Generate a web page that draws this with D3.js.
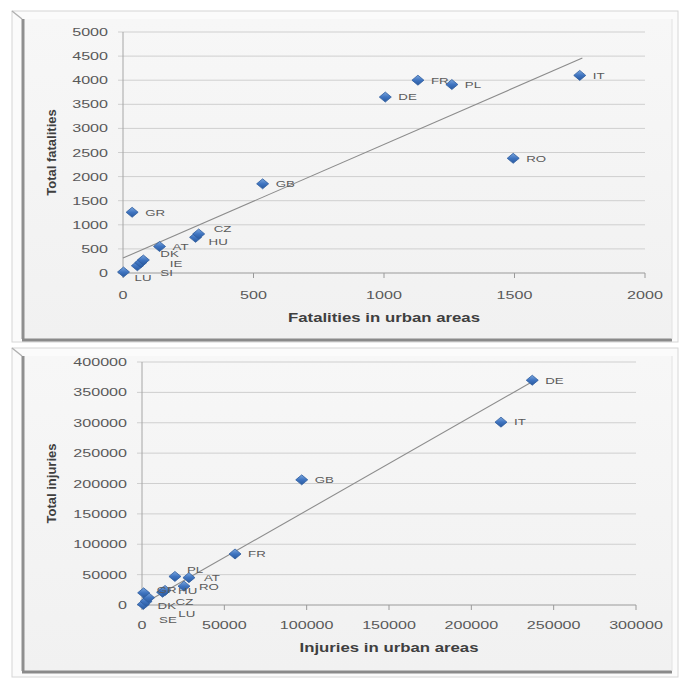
<!DOCTYPE html>
<html>
<head>
<meta charset="utf-8">
<script src="https://cdn.jsdelivr.net/npm/d3@7"></script>
<style>
  body { margin: 0; background: #ffffff; }
  svg { display: block; }
</style>
</head>
<body>
<div id="main"></div>
<script>
const ctx = {
    CHART_WIDTH: 684,
    CHART_HEIGHT: 679,
    FONT: "'Liberation Sans', Arial, sans-serif",
    SX: 1.4   // the picture is stretched sideways, so is the horizontal text
};

// fatalities chart
const fatalCountries = ["IT", "FR", "PL", "DE", "RO", "GB", "GR", "CZ", "HU", "AT", "DK", "IE", "SI", "LU"];
const fatalUrban = [1750, 1130, 1260, 1005, 1495, 535, 35, 290, 278, 140, 78, 68, 55, 2];
const fatalTotal = [4100, 4000, 3910, 3650, 2380, 1850, 1260, 810, 740, 550, 270, 215, 150, 20];
const fatalTrend = [[0, 310], [1760, 4460]];
const fatalXTicks = [0, 500, 1000, 1500, 2000];
const fatalYTicks = [0, 500, 1000, 1500, 2000, 2500, 3000, 3500, 4000, 4500, 5000];

// injuries chart
const injCountries = ["DE", "IT", "GB", "FR", "PL", "AT", "RO", "HU", "CZ", "GR", "DK", "SE", "LU"];
const injUrban = [237000, 218000, 97000, 56500, 20000, 28500, 25500, 14000, 12500, 1000, 4000, 2500, 800];
const injTotal = [370000, 301000, 206000, 84000, 47000, 45000, 31000, 24000, 21000, 20000, 12000, 6000, 1000];
const injTrend = [[0, 700], [238000, 369000]];
const injXTicks = [0, 50000, 100000, 150000, 200000, 250000, 300000];
const injYTicks = [0, 50000, 100000, 150000, 200000, 250000, 300000, 350000, 400000];

// small pixel nudges for labels in the crowded corner (dx, dy)
const fatalNudge = {CZ: [2, -5], HU: [0, 4], DK: [4, -6], IE: [16, 1], SI: [10, 7], LU: [-2, 6]};
const injNudge = {PL: [-1, -7], AT: [2, 0], RO: [2, 1], GR: [0, -3], CZ: [0, 9], DK: [-4, 8], SE: [0, 18], LU: [22, 9]};

const panels = [
    {
        id: "fatal", frame: {x0: 12, y0: 11, x1: 678, y1: 342, ix: 22, iy: 19, ib: 339},
        plot: {left: 123, right: 645, top: 32, bottom: 273},
        countries: fatalCountries, xs: fatalUrban, ys: fatalTotal, trend: fatalTrend, nudge: fatalNudge,
        xTicks: fatalXTicks, yTicks: fatalYTicks, xMax: 2000, yMax: 5000,
        xTitle: "Fatalities in urban areas", yTitle: "Total fatalities",
        xTitleY: 318, yTitleX: 51, tickLabelRight: 108, xTickY: 295
    },
    {
        id: "inj", frame: {x0: 12, y0: 348, x1: 678, y1: 677, ix: 22, iy: 356, ib: 671},
        plot: {left: 142, right: 636, top: 362, bottom: 605},
        countries: injCountries, xs: injUrban, ys: injTotal, trend: injTrend, nudge: injNudge,
        xTicks: injXTicks, yTicks: injYTicks, xMax: 300000, yMax: 400000,
        xTitle: "Injuries in urban areas", yTitle: "Total injuries",
        xTitleY: 648, yTitleX: 51, tickLabelRight: 127, xTickY: 625
    }
];

function hText(g, x, y, str, anchor, size, weight, color) {
    return g.append("text")
        .attr("transform", `translate(${x},${y}) scale(${ctx.SX},1)`)
        .attr("text-anchor", anchor)
        .attr("dy", "0.35em")
        .attr("font-family", ctx.FONT)
        .attr("font-size", size)
        .attr("font-weight", weight)
        .attr("fill", color)
        .text(str);
}

function drawFrame(g, f) {
    // outer light border
    g.append("rect")
        .attr("x", f.x0).attr("y", f.y0)
        .attr("width", f.x1 - f.x0).attr("height", f.y1 - f.y0)
        .attr("fill", "#fbfbfb").attr("stroke", "#d6d6d6");
    // inner panel
    g.append("rect")
        .attr("x", f.ix).attr("y", f.iy)
        .attr("width", f.x1 - 6 - f.ix).attr("height", f.ib - f.iy)
        .attr("fill", "url(#panelGrad)");
    // bevel: dark left and bottom edges
    g.append("line")
        .attr("x1", f.ix + 1).attr("x2", f.ix + 1)
        .attr("y1", f.iy).attr("y2", f.ib)
        .attr("stroke", "#8f8f8f").attr("stroke-width", 3);
    g.append("line")
        .attr("x1", f.ix).attr("x2", f.x1 - 6)
        .attr("y1", f.ib + 1).attr("y2", f.ib + 1)
        .attr("stroke", "#8a8a8a").attr("stroke-width", 3);
    g.append("line")
        .attr("x1", f.x0).attr("y1", f.y0)
        .attr("x2", f.ix).attr("y2", f.iy)
        .attr("stroke", "#b0b0b0").attr("stroke-width", 1.5);
    g.append("line")
        .attr("x1", f.x1 - 6).attr("x2", f.x1 - 6)
        .attr("y1", f.iy).attr("y2", f.ib)
        .attr("stroke", "#e2e2e2");
}

function drawPanel(svg, p) {
    const g = svg.append("g").attr("id", p.id);
    drawFrame(g, p.frame);

    const x = d3.scaleLinear().domain([0, p.xMax]).range([p.plot.left, p.plot.right]);
    const y = d3.scaleLinear().domain([0, p.yMax]).range([p.plot.bottom, p.plot.top]);

    // horizontal gridlines (with the little outward tick)
    g.append("g").selectAll("line")
        .data(p.yTicks)
        .join("line")
        .attr("x1", p.plot.left - 5).attr("x2", p.plot.right)
        .attr("y1", d => y(d)).attr("y2", d => y(d))
        .attr("stroke", d => d === 0 ? "#9a9a9a" : "#cfcfcf")
        .attr("stroke-width", 1);

    // y axis line
    g.append("line")
        .attr("x1", p.plot.left).attr("x2", p.plot.left)
        .attr("y1", p.plot.top).attr("y2", p.plot.bottom)
        .attr("stroke", "#a6a6a6");

    // x tick marks
    g.append("g").selectAll("line")
        .data(p.xTicks)
        .join("line")
        .attr("x1", d => x(d)).attr("x2", d => x(d))
        .attr("y1", p.plot.bottom).attr("y2", p.plot.bottom + 5)
        .attr("stroke", "#9a9a9a");

    // tick labels
    p.yTicks.forEach(t => hText(g, p.tickLabelRight, y(t), t, "end", 11.5, "normal", "#595959"));
    p.xTicks.forEach(t => hText(g, x(t), p.xTickY, t, "middle", 11.5, "normal", "#595959"));

    // axis titles
    hText(g, (p.plot.left + p.plot.right) / 2, p.xTitleY, p.xTitle, "middle", 12, "bold", "#3f3f3f");
    g.append("text")
        .attr("transform", `translate(${p.yTitleX},${(p.plot.top + p.plot.bottom) / 2}) rotate(-90)`)
        .attr("text-anchor", "middle")
        .attr("dy", "0.35em")
        .attr("font-family", ctx.FONT)
        .attr("font-size", 13)
        .attr("font-weight", "bold")
        .attr("fill", "#3f3f3f")
        .text(p.yTitle);

    // linear trendline
    g.append("line")
        .attr("x1", x(p.trend[0][0])).attr("y1", y(p.trend[0][1]))
        .attr("x2", x(p.trend[1][0])).attr("y2", y(p.trend[1][1]))
        .attr("stroke", "#8c8c8c").attr("stroke-width", 1.1);

    const pts = p.countries.map((c, i) => ({c: c, u: p.xs[i], t: p.ys[i]}));

    // markers, drawn smallest first so big countries sit on top
    const diamond = "M0,-5 L6,0 L0,5 L-6,0 Z";
    g.append("g").selectAll("path")
        .data(pts.slice().reverse())
        .join("path")
        .attr("d", diamond)
        .attr("transform", d => `translate(${x(d.u)},${y(d.t)})`)
        .attr("fill", "url(#markerGrad)")
        .attr("stroke", "#2f5d9e")
        .attr("stroke-width", 0.8);

    // data labels
    pts.forEach(d => {
        const n = p.nudge[d.c] || [0, 0];
        hText(g, x(d.u) + 13 + n[0], y(d.t) + n[1], d.c, "start", 9.5, "normal", "#5a5a5a");
    });
}

function createViz() {
    const svgEl = d3.select("#main").append("svg")
        .attr("width", ctx.CHART_WIDTH)
        .attr("height", ctx.CHART_HEIGHT);

    const defs = svgEl.append("defs");
    const pg = defs.append("linearGradient").attr("id", "panelGrad")
        .attr("x1", 0).attr("y1", 0).attr("x2", 0).attr("y2", 1);
    pg.append("stop").attr("offset", "0%").attr("stop-color", "#f7f7f7");
    pg.append("stop").attr("offset", "100%").attr("stop-color", "#f1f1f1");

    const mg = defs.append("linearGradient").attr("id", "markerGrad")
        .attr("x1", 0).attr("y1", 0).attr("x2", 0).attr("y2", 1);
    mg.append("stop").attr("offset", "0%").attr("stop-color", "#7aa6de");
    mg.append("stop").attr("offset", "50%").attr("stop-color", "#3f74c0");
    mg.append("stop").attr("offset", "100%").attr("stop-color", "#2a5a9f");

    panels.forEach(p => drawPanel(svgEl, p));
}

createViz();
</script>
</body>
</html>
